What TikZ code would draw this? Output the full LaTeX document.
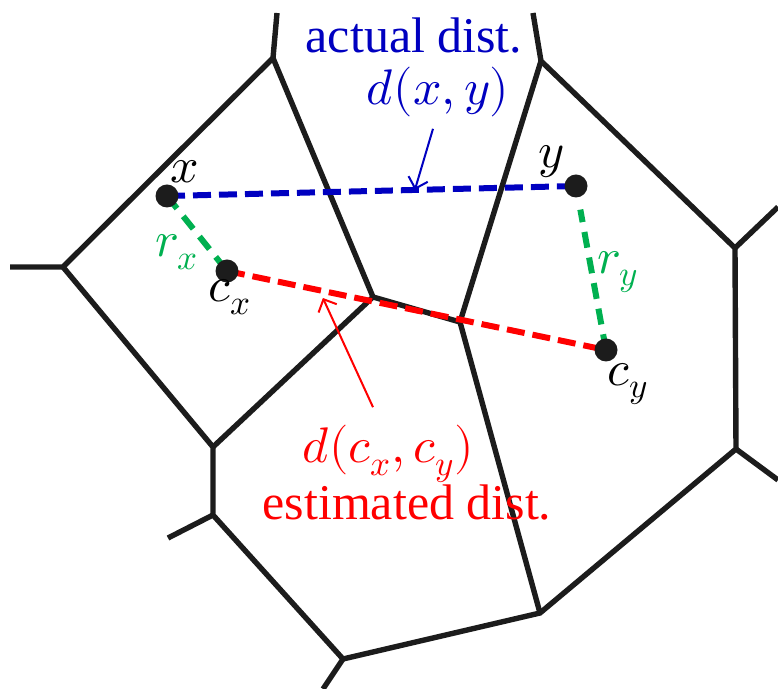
\documentclass[tikz,border=0pt]{standalone}
\usepackage{fontspec}
\usepackage{unicode-math}
\setmainfont{Liberation Serif}
\usetikzlibrary{arrows.meta,calc}
\definecolor{dotc}{RGB}{28,28,28}
\definecolor{dblue}{RGB}{0,0,192}
\definecolor{dgreen}{RGB}{0,176,80}
\definecolor{dred}{RGB}{255,0,0}
\begin{document}
\begin{tikzpicture}[x=0.5pt,y=-0.5pt,
  cell/.style={draw=dotc,line width=2.7pt},
  dist/.style={dash pattern=on 9pt off 4pt,line width=3pt},
  rad/.style={draw=dgreen,dash pattern=on 8pt off 5pt,line width=3pt},
  pt/.style={circle,fill=dotc,minimum size=11.5pt,inner sep=0pt},
  lbl/.style={inner sep=0pt,font=\fontsize{25}{30}\selectfont},
  pointer/.style={line width=1pt,-{Straight Barb[length=5pt,width=10pt]}}]
  \useasboundingbox (0,0) rectangle (778,689);
  % cell vertices
  \coordinate (a0) at (277,13);  \coordinate (a) at (273,58);
  \coordinate (b0) at (10,267);  \coordinate (b) at (63,267);
  \coordinate (c) at (373,297);  \coordinate (d) at (213,447);
  \coordinate (e0) at (168,538); \coordinate (e) at (213,515);
  \coordinate (f0) at (323,689); \coordinate (f) at (343,659);
  \coordinate (g) at (540,613);  \coordinate (h) at (460,322);
  \coordinate (j0) at (533,13);  \coordinate (j) at (541,61);
  \coordinate (k0) at (778,207); \coordinate (k) at (735,248);
  \coordinate (i0) at (778,480); \coordinate (i) at (736,449);
  \draw[cell] (b0) -- (b) -- (a) -- (a0);
  \draw[cell] (b) -- (d) -- (e) -- (f) -- (g) -- (i) -- (k) -- (j) -- (j0);
  \draw[cell] (a) -- (c) -- (h) -- (j);
  \draw[cell] (d) -- (c);
  \draw[cell] (h) -- (g);
  \draw[cell] (e0) -- (e);
  \draw[cell] (f0) -- (f);
  \draw[cell] (k0) -- (k);
  \draw[cell] (i0) -- (i);
  % points and centres
  \coordinate (x) at (167,196);  \coordinate (y) at (576,186);
  \coordinate (cx) at (227,271); \coordinate (cy) at (606,350);
  \draw[dist,draw=dblue] (x) -- (y);
  \draw[dist,draw=dred] (cx) -- (cy);
  \draw[rad] (x) -- (cx);
  \draw[rad] (cy) -- ($(y)!12pt!(cy)$);
  \node[pt] (xd) at (x) {};
  \node[pt] (yd) at (y) {};
  \node[pt] (cxd) at (cx) {};
  \node[pt] (cyd) at (cy) {};
  \node[lbl] (xl) at (185,172) {$x$};
  \node[lbl] (yl) at (551,162) {$y$};
  \node[lbl] (cxl) at (230,297) {$c_x$};
  \node[lbl] (cyl) at (628,384) {$c_y$};
  \node[lbl,text=dgreen] (rxl) at (177,252) {$r_x$};
  \node[lbl,text=dgreen] (ryl) at (618,272) {$r_y$};
  % distance labels
  \node[lbl,text=dblue,anchor=base] (act) at (414,53) {actual dist.};
  \node[lbl,text=dblue,anchor=base] (dxy) at (438,105) {$d(x,y)$};
  \node[lbl,text=dred,anchor=base] (dcc) at (388,463) {$d(c_x,c_y)$};
  \node[lbl,text=dred,anchor=base] (est) at (407,520) {estimated dist.};
  \coordinate (bt) at ($(x)!0.606!(y)$);
  \coordinate (rt) at ($(cx)!0.253!(cy)+(0,7)$);
  \draw[pointer,draw=dblue] ($(dxy.south)+(-5,11)$) -- (bt);
  \draw[pointer,draw=dred] ($(dcc.north)+(-15,-18)$) -- (rt);
\end{tikzpicture}
\end{document}
